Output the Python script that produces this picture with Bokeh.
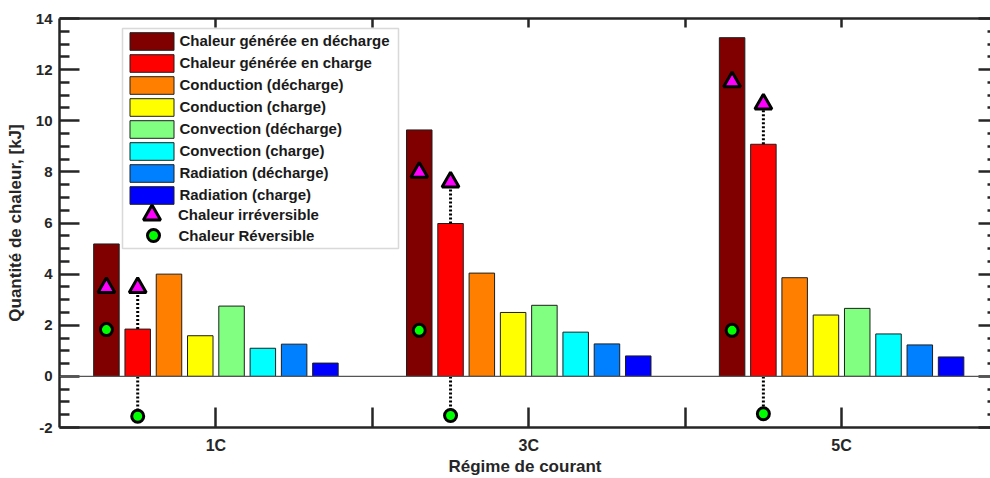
from bokeh.plotting import figure
from bokeh.models import (ColumnDataSource, LinearAxis, FixedTicker, Span, Range1d,
                          Legend, LegendItem, BoxAnnotation)
from bokeh.embed import file_html
from bokeh.resources import INLINE

# ---- data ----
groups = [1, 3, 5]
group_ticks = [1, 3, 5]
between_ticks = [2, 4]
tick_labels = {1: "1C", 3: "3C", 5: "5C"}

series_names = [
    "Chaleur générée en décharge",
    "Chaleur générée en charge",
    "Conduction (décharge)",
    "Conduction (charge)",
    "Convection (décharge)",
    "Convection (charge)",
    "Radiation (décharge)",
    "Radiation (charge)",
]
gen_dis = [5.18, 9.64, 13.25]
gen_ch = [1.85, 5.98, 9.08]
cond_dis = [4.0, 4.04, 3.86]
cond_ch = [1.59, 2.5, 2.4]
conv_dis = [2.75, 2.78, 2.66]
conv_ch = [1.1, 1.73, 1.66]
rad_dis = [1.26, 1.27, 1.23]
rad_ch = [0.52, 0.8, 0.76]
irr_dis = [3.47, 7.98, 11.52]
irr_ch = [3.47, 7.6, 10.65]
rev_dis = [1.83, 1.8, 1.8]
rev_ch = [-1.56, -1.53, -1.46]

yticks = [-2, 0, 2, 4, 6, 8, 10, 12, 14]
yminor = [v / 2 for v in range(-4, 29) if v % 4 != 0]

series_values = [gen_dis, gen_ch, cond_dis, cond_ch, conv_dis, conv_ch, rad_dis, rad_ch]
colors = ["#800000", "#FF0000", "#FF8000", "#FFFF00", "#80FF80", "#00FFFF", "#0080FF", "#0000FF"]
offsets = [-0.7, -0.5, -0.3, -0.1, 0.1, 0.3, 0.5, 0.7]
bar_width = 0.163

TXT = "#262626"
FONT = "Liberation Sans"

p = figure(width=990, height=478, x_range=Range1d(0, 5.952), y_range=Range1d(-2, 14),
           output_backend="svg", toolbar_location=None,
           x_axis_location=None, y_axis_location=None,
           min_border_left=59, min_border_right=0, min_border_top=18, min_border_bottom=51)
p.grid.visible = False
p.outline_line_color = None
p.background_fill_color = "white"

bar_renderers = []
for name, vals, col, off in zip(series_names, series_values, colors, offsets):
    src = ColumnDataSource(dict(x=[g + off for g in groups], top=vals))
    r = p.vbar(x="x", top="top", bottom=0, width=bar_width, source=src,
               fill_color=col, line_color="#1e1e1e", line_width=1)
    bar_renderers.append(r)

zero = Span(location=0, dimension="width", line_color="#555555", line_width=1.2)
p.add_layout(zero)

# dotted connectors for charge bars
x_ch = [g + offsets[1] for g in groups]
x_dis = [g + offsets[0] for g in groups]
p.segment(x0=x_ch, y0=gen_ch, x1=x_ch, y1=irr_ch, line_color="black", line_width=3, line_dash="2 2")
p.segment(x0=x_ch, y0=[0] * 3, x1=x_ch, y1=rev_ch, line_color="black", line_width=3, line_dash="2 2")

tri = p.scatter(x=x_dis + x_ch, y=irr_dis + irr_ch, marker="triangle", size=17,
                fill_color="#FF00FF", line_color="black", line_width=3)
circ = p.scatter(x=x_dis + x_ch, y=rev_dis + rev_ch, marker="circle", size=12,
                 fill_color="#00FF00", line_color="black", line_width=3)


def style(ax):
    ax.axis_line_color = TXT
    ax.axis_line_width = 2.5
    ax.major_tick_line_color = TXT
    ax.major_tick_line_width = 2.5
    ax.minor_tick_line_color = TXT
    ax.minor_tick_line_width = 2.5
    ax.major_tick_out = 0
    ax.minor_tick_out = 0
    ax.major_label_text_font = FONT
    ax.major_label_text_font_style = "bold"
    ax.major_label_text_font_size = "15px"
    ax.major_label_text_color = TXT
    ax.axis_label_text_font = FONT
    ax.axis_label_text_font_style = "bold"
    ax.axis_label_text_font_size = "17px"
    ax.axis_label_text_color = TXT


left = LinearAxis(ticker=FixedTicker(ticks=yticks, minor_ticks=yminor),
                  axis_label="Quantité de chaleur, [kJ]")
style(left)
left.major_tick_in = 20
left.minor_tick_in = 10
left.major_label_standoff = 7
left.axis_label_standoff = 8
left.major_label_overrides = {-2: "-2"}
p.add_layout(left, "left")

right_major = LinearAxis(ticker=FixedTicker(ticks=[], minor_ticks=yticks))
style(right_major)
right_major.axis_line_color = None
right_major.minor_tick_in = 12
p.add_layout(right_major, "right")

right_minor = LinearAxis(ticker=FixedTicker(ticks=[], minor_ticks=yminor))
style(right_minor)
right_minor.axis_line_color = None
right_minor.minor_tick_in = 3
p.add_layout(right_minor, "right")

bottom = LinearAxis(ticker=FixedTicker(ticks=group_ticks, minor_ticks=between_ticks),
                    axis_label="Régime de courant")
style(bottom)
bottom.major_label_overrides = tick_labels
bottom.major_label_text_font_size = "16px"
bottom.major_tick_in = 20
bottom.minor_tick_in = 20
bottom.major_label_standoff = 9
bottom.axis_label_standoff = 0
p.add_layout(bottom, "below")

top = LinearAxis(ticker=FixedTicker(ticks=[], minor_ticks=group_ticks + between_ticks))
style(top)
top.minor_tick_in = 9
p.add_layout(top, "above")

# legend frame
box = BoxAnnotation(left=122, right=398, top=28, bottom=248,
                    left_units="canvas", right_units="canvas",
                    top_units="canvas", bottom_units="canvas",
                    fill_color="white", fill_alpha=1,
                    line_color="#808080", line_width=1.5)
p.add_layout(box)


def leg_style(lg):
    lg.padding = 0
    lg.margin = 0
    lg.border_line_color = None
    lg.background_fill_color = None
    lg.background_fill_alpha = 0
    lg.label_text_font = FONT
    lg.label_text_font_style = "bold"
    lg.label_text_font_size = "15px"
    lg.label_text_color = "#1a1a1a"


leg_bars = Legend(items=[LegendItem(label=n, renderers=[r]) for n, r in zip(series_names, bar_renderers)],
                  location=(65.4, 221.2))
leg_style(leg_bars)
leg_bars.glyph_width = 55
leg_bars.glyph_height = 22
leg_bars.label_height = 22
leg_bars.spacing = 0
leg_bars.label_standoff = 0
p.add_layout(leg_bars)

leg_tri = Legend(items=[LegendItem(label="Chaleur irréversible", renderers=[tri])],
                 location=(71, 191.5))
leg_style(leg_tri)
leg_tri.glyph_width = 43
leg_tri.glyph_height = 43
leg_tri.label_height = 43
leg_tri.label_standoff = 5
p.add_layout(leg_tri)

leg_circ = Legend(items=[LegendItem(label="Chaleur Réversible", renderers=[circ])],
                  location=(78.5, 177))
leg_style(leg_circ)
leg_circ.glyph_width = 30
leg_circ.glyph_height = 30
leg_circ.label_height = 30
leg_circ.label_standoff = 11
p.add_layout(leg_circ)

open("out.html", "w").write(file_html(p, INLINE))
